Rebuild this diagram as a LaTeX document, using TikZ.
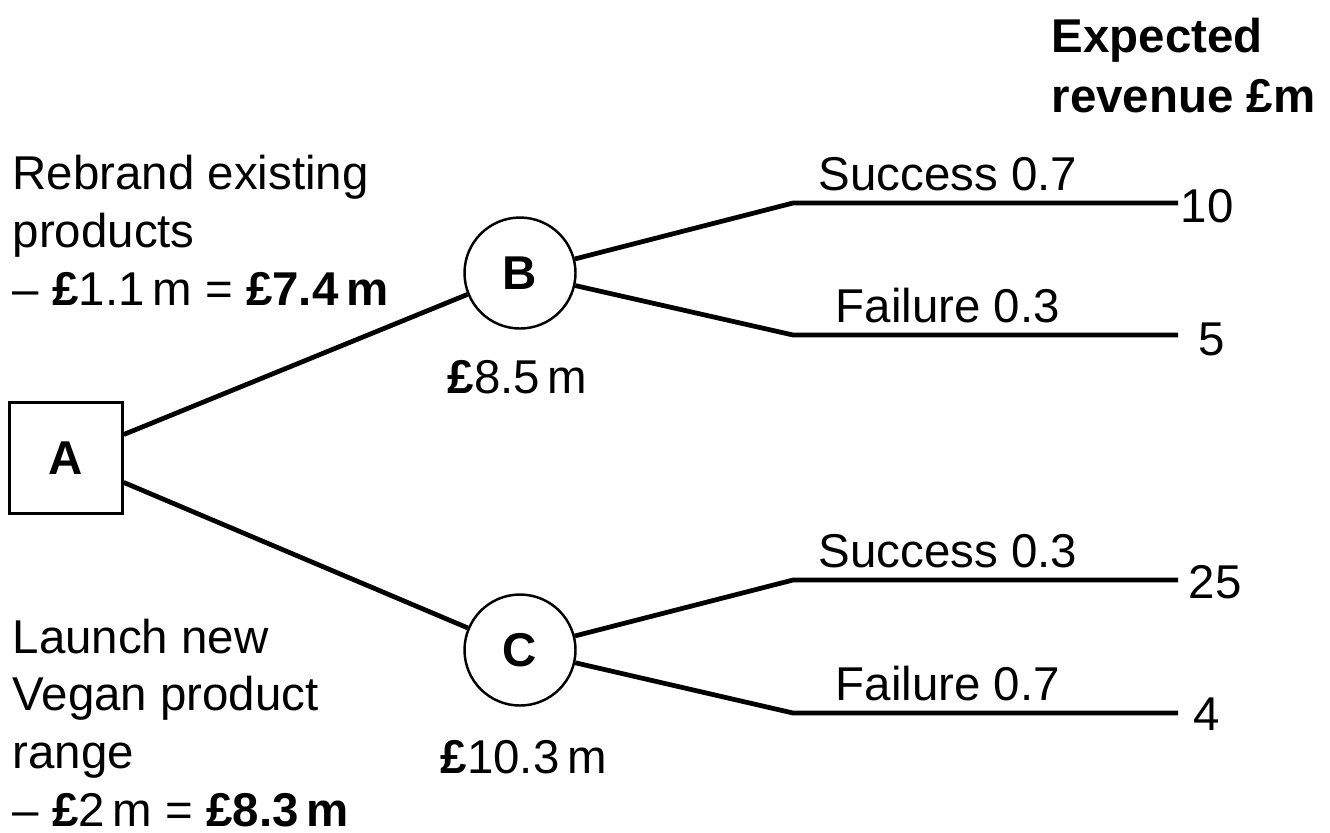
\documentclass[tikz,border=0pt]{standalone}
\usepackage{fontspec}
\setmainfont{Liberation Sans}
\begin{document}
\begin{tikzpicture}[x=0.1mm,y=-0.1mm,
        every node/.style={font=\fontsize{13.5pt}{16.4pt}\selectfont},
        decisionBox/.style={draw,line width=0.7pt,minimum width=11.3mm,minimum height=11.1mm,inner sep=0pt,font=\fontsize{13.5pt}{16pt}\selectfont\bfseries},
        chanceNode/.style={draw,circle,line width=0.7pt,minimum size=11.1mm,inner sep=0pt,font=\fontsize{13.5pt}{16pt}\selectfont\bfseries},
        branchLine/.style={line width=1.35pt},
        plainText/.style={inner sep=0pt,anchor=base west,align=left}]
        \useasboundingbox (0,0) rectangle (1330,832);
        \node[decisionBox] (nodeA) at (66,458) {A};
        \node[chanceNode] (chanceB) at (520,273) {B};
        \node[chanceNode] (chanceC) at (520,650) {C};
        \coordinate (successB) at (793,203);
        \coordinate (successBEnd) at (1178,203);
        \coordinate (failureB) at (793,335);
        \coordinate (failureBEnd) at (1178,335);
        \coordinate (successC) at (793,580);
        \coordinate (successCEnd) at (1178,580);
        \coordinate (failureC) at (793,713);
        \coordinate (failureCEnd) at (1178,713);
        \draw[branchLine] (nodeA) -- (chanceB);
        \draw[branchLine] (nodeA) -- (chanceC);
        \draw[branchLine] (chanceB) -- (successB) -- (successBEnd);
        \draw[branchLine] (chanceB) -- (failureB) -- (failureBEnd);
        \draw[branchLine] (chanceC) -- (successC) -- (successCEnd);
        \draw[branchLine] (chanceC) -- (failureC) -- (failureCEnd);
        \node[plainText,font=\fontsize{13.5pt}{16.8pt}\selectfont\bfseries] (revenueHead) at (1051,112) {Expected\\revenue £m};
        \node[plainText] (rebrandLabel) at (12,305) {Rebrand existing\\products\\– \textbf{£}1.1\,m = \textbf{£7.4\,m}};
        \node[plainText] (launchLabel) at (12,826) {Launch new\\Vegan product\\range\\– \textbf{£}2\,m = \textbf{£8.3\,m}};
        \node[plainText] (valueB) at (447,393) {\textbf{£}8.5\,m};
        \node[plainText] (valueC) at (440,773) {\textbf{£}10.3\,m};
        \node[plainText] (successBLabel) at (818,190) {Success 0.7};
        \node[plainText] (failureBLabel) at (835,322) {Failure 0.3};
        \node[plainText] (successCLabel) at (818,567) {Success 0.3};
        \node[plainText] (failureCLabel) at (835,700) {Failure 0.7};
        \node[plainText] (payoffSuccessB) at (1180,222) {10};
        \node[plainText] (payoffFailureB) at (1198,355) {5};
        \node[plainText] (payoffSuccessC) at (1188,598) {25};
        \node[plainText] (payoffFailureC) at (1193,730) {4};
\end{tikzpicture}
\end{document}
